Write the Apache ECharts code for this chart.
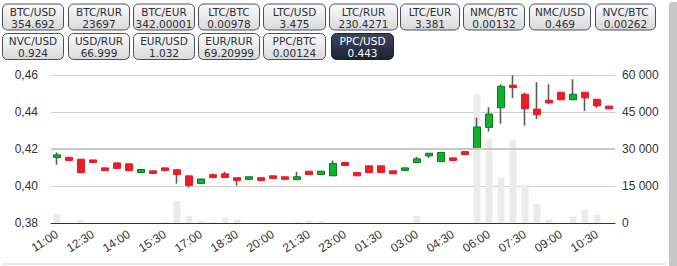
<!DOCTYPE html>
<html>
<head>
<meta charset="utf-8">
<script src="https://cdn.jsdelivr.net/npm/echarts@6/dist/echarts.min.js"></script>
<style>
html,body{margin:0;padding:0;background:#fff;}
#c{width:677px;height:266px;}
</style>
</head>
<body>
<div id="c"></div>
<script>
// ---- data ----
const pairNames1 = ['BTC/USD','BTC/RUR','BTC/EUR','LTC/BTC','LTC/USD','LTC/RUR','LTC/EUR','NMC/BTC','NMC/USD','NVC/BTC'];
const pairValues1 = ['354.692','23697','342.00001','0.00978','3.475','230.4271','3.381','0.00132','0.469','0.00262'];
const pairNames2 = ['NVC/USD','USD/RUR','EUR/USD','EUR/RUR','PPC/BTC','PPC/USD'];
const pairValues2 = ['0.924','66.999','1.032','69.20999','0.00124','0.443'];
const selectedPair = 'PPC/USD';

const times = ['11:00','11:30','12:00','12:30','13:00','13:30','14:00','14:30','15:00','15:30',
  '16:00','16:30','17:00','17:30','18:00','18:30','19:00','19:30','20:00','20:30',
  '21:00','21:30','22:00','22:30','23:00','23:30','00:30','01:30','02:00','02:30',
  '03:00','03:30','04:00','04:30','05:00','05:30','06:00','06:30','07:00','07:30',
  '08:00','08:30','09:00','09:30','10:00','10:30','11:00'];
const open = [0.4154,0.4155,0.4145,0.4141,0.4098,0.4125,0.4120,0.4073,0.4082,0.4098,
  0.4088,0.4055,0.4014,0.4061,0.4066,0.4045,0.4036,0.4045,0.4055,0.4050,
  0.4034,0.4080,0.4062,0.4055,0.4127,0.4073,0.4109,0.4109,0.4082,0.4084,
  0.4127,0.4163,0.4132,0.4152,0.4186,0.4199,0.4317,0.4423,0.4545,0.4496,
  0.4416,0.4464,0.4507,0.4466,0.4507,0.4469,0.4432];
const close = [0.4168,0.4138,0.4073,0.4127,0.4084,0.4095,0.4084,0.4089,0.4068,0.4084,
  0.4062,0.4003,0.4038,0.4046,0.4046,0.4029,0.4050,0.4030,0.4041,0.4036,
  0.4050,0.4062,0.4080,0.4122,0.4111,0.4055,0.4073,0.4073,0.4066,0.4098,
  0.4147,0.4177,0.4181,0.4138,0.4170,0.4319,0.4389,0.4539,0.4532,0.4417,
  0.4385,0.4449,0.4466,0.4496,0.4476,0.4433,0.4417];
const low = [0.4115,0.4138,0.4073,0.4127,0.4084,0.4095,0.4084,0.4073,0.4068,0.4084,
  0.4013,0.3992,0.4014,0.4046,0.4046,0.4002,0.4036,0.4030,0.4041,0.4036,
  0.4034,0.4062,0.4062,0.4055,0.4111,0.4055,0.4073,0.4073,0.4066,0.4084,
  0.4127,0.4152,0.4132,0.4138,0.4170,0.4199,0.4294,0.4337,0.4476,0.4326,
  0.4362,0.4444,0.4466,0.4466,0.4406,0.4423,0.4417];
const high = [0.4181,0.4155,0.4145,0.4141,0.4098,0.4125,0.4120,0.4089,0.4082,0.4098,
  0.4088,0.4055,0.4038,0.4068,0.4077,0.4045,0.4050,0.4045,0.4055,0.4050,
  0.4077,0.4080,0.4080,0.4138,0.4127,0.4073,0.4109,0.4109,0.4082,0.4098,
  0.4158,0.4177,0.4181,0.4152,0.4186,0.4369,0.4426,0.4550,0.4598,0.4505,
  0.4561,0.4550,0.4507,0.4577,0.4507,0.4469,0.4432];
const volume = [3750,0,1300,0,0,0,0,0,0,350,
  9000,2950,1000,350,2150,1350,0,0,0,0,
  500,1000,650,0,0,0,0,0,0,0,
  2950,0,0,0,0,52200,34000,18400,33600,15500,
  7800,1300,0,2700,5400,3350,0];
const priceTicks = {min:0.38, max:0.46, step:0.02};
const volumeTicks = {min:0, max:60000, step:15000};

// ---- build ----
const wickData = times.map((t,i)=>[open[i],close[i],low[i],high[i]]);
const bodyData = times.map((t,i)=>[open[i],close[i],Math.min(open[i],close[i]),Math.max(open[i],close[i])]);

// button layout (presentation only)
const row1X = [2,68,133,198,263,329,400,463,529,595];
const row1W = [61,61,61,61,62,68,59,61,61,60];
const row2X = [2,68,133,198,263,331];
const row2W = [61,61,61,61,62,62];
function makeButton(name, val, x, w, y){
  const sel = name === selectedPair;
  return {
    type:'group', x:x, y:y,
    children:[
      {type:'rect', shape:{x:0.5,y:0.5,width:w,height:26,r:5},
       style:{
         fill: sel ? {type:'linear',x:0,y:0,x2:0,y2:1,colorStops:[{offset:0,color:'#3d4760'},{offset:1,color:'#1c2233'}]}
                   : {type:'linear',x:0,y:0,x2:0,y2:1,colorStops:[{offset:0,color:'#fbfbfb'},{offset:1,color:'#d9d9d9'}]},
         stroke: sel ? '#1a1f2c' : '#4a4f5a', lineWidth:1}},
      {type:'text', x:w/2+0.5, y:8, style:{text:name, fill: sel?'#ffffff':'#2b2f38', font:'10.5px "DejaVu Sans"', align:'center', verticalAlign:'middle'}},
      {type:'text', x:w/2+0.5, y:20, style:{text:val, fill: sel?'#ffffff':'#2b2f38', font:'10.5px "DejaVu Sans"', align:'center', verticalAlign:'middle'}}
    ]
  };
}
const graphics = [];
pairNames1.forEach((n,i)=>graphics.push(makeButton(n,pairValues1[i],row1X[i],row1W[i],3.5)));
pairNames2.forEach((n,i)=>graphics.push(makeButton(n,pairValues2[i],row2X[i],row2W[i],33)));
graphics.push({type:'rect', shape:{x:669,y:2,width:8,height:264,r:[3,0,0,0]}, style:{fill:'#c8c8c8'}, silent:true});
graphics.push({type:'rect', shape:{x:2,y:263,width:664,height:2}, style:{fill:'#e8e8e8'}, silent:true});

const chart = echarts.init(document.getElementById('c'), null, {renderer:'svg'});
chart.setOption({
  animation:false,
  backgroundColor:'#ffffff',
  grid:{left:51, right:62, top:75, bottom:43},
  graphic: graphics,
  xAxis:{
    type:'category', data:times, boundaryGap:true,
    axisLine:{show:true, lineStyle:{color:'#333', width:1}},
    axisTick:{show:false},
    axisLabel:{interval:2, rotate:33, color:'#333', fontSize:12, fontFamily:'"Liberation Sans", Arial', margin:10},
    splitLine:{show:false}
  },
  yAxis:[
    {type:'value', position:'left', min:priceTicks.min, max:priceTicks.max, interval:priceTicks.step,
     axisLine:{show:false}, axisTick:{show:false},
     axisLabel:{color:'#333', fontSize:12, fontFamily:'"Liberation Sans", Arial', margin:13,
       formatter:v=>v.toFixed(2).replace('.',',')},
     splitLine:{show:true, lineStyle:{color:'#cfcfcf', width:1}}},
    {type:'value', position:'right', min:volumeTicks.min, max:volumeTicks.max, interval:volumeTicks.step,
     axisLine:{show:false}, axisTick:{show:false},
     axisLabel:{color:'#333', fontSize:12, fontFamily:'"Liberation Sans", Arial', margin:7,
       formatter:v=>String(Math.round(v)).replace(/\B(?=(\d{3})+(?!\d))/g,' ')},
     splitLine:{show:false}}
  ],
  series:[
    {type:'bar', name:'volume', yAxisIndex:1, data:volume, barWidth:7,
     itemStyle:{color:'#ebebeb'}, silent:true, z:1},
    {type:'candlestick', name:'wick', yAxisIndex:0, data:wickData, barWidth:1,
     itemStyle:{color:'#5a5a5a', color0:'#5a5a5a', borderColor:'#5a5a5a', borderColor0:'#5a5a5a', borderWidth:1.6},
     markLine:{silent:true, symbol:'none', label:{show:false},
       lineStyle:{color:'#c8c8c8', width:2, type:'solid'}, data:[{yAxis:0.42}]},
     z:2},
    {type:'candlestick', name:'body', yAxisIndex:0, data:bodyData, barWidth:7,
     itemStyle:{color:'#10b22c', color0:'#ee1c24', borderColor:'#0a7a1c', borderColor0:'#ee1c24', borderWidth:1},
     z:3}
  ]
});
</script>
</body>
</html>
